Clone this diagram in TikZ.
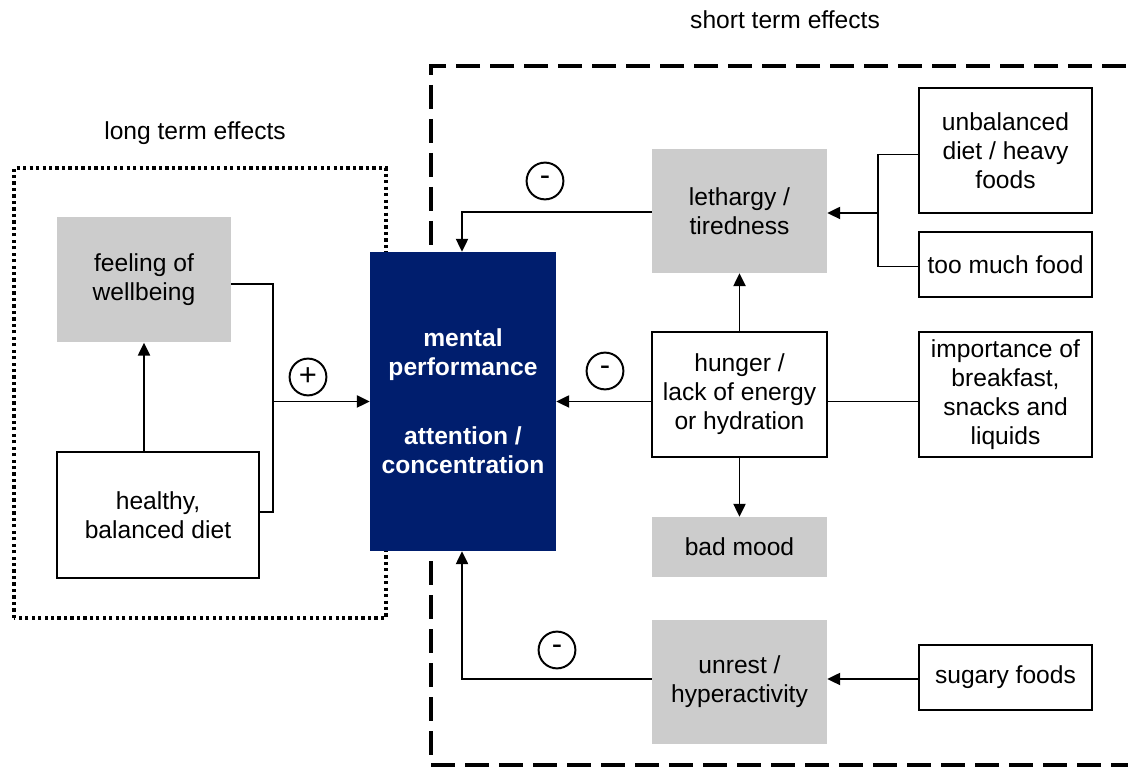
\documentclass[tikz,border=0pt]{standalone}
\usepackage{fontspec}
\setmainfont{Liberation Sans}
\usetikzlibrary{positioning, arrows.meta, calc}
\definecolor{navyperf}{RGB}{0, 30, 110}
\definecolor{boxgray}{RGB}{204, 204, 204}

\begin{document}
\begin{tikzpicture}[>={Triangle[length=0.32cm, width=0.3cm]},
    every node/.style={font=\fontsize{17.5}{20.6}\selectfont, align=center},
    graybox/.style={fill=boxgray, minimum width=4.375cm, minimum height=3.1cm, inner sep=2pt},
    whitebox/.style={draw, line width=1.4pt, fill=white, minimum width=4.325cm, minimum height=3.125cm, inner sep=2pt},
    perfbox/.style={fill=navyperf, text=white, font=\fontsize{17.5}{20.6}\selectfont\bfseries, minimum width=4.65cm, minimum height=7.475cm},
    sign/.style={draw, circle, line width=1.4pt, minimum size=0.92cm, inner sep=0pt, font=\fontsize{22}{22}\selectfont},
    conn/.style={line width=1.4pt}]
\useasboundingbox (0,0) rectangle (28.2,19.175);
% frames
\draw[line width=2.3pt, dash pattern=on 2.3pt off 2.3pt] (0.35,3.725) rectangle (9.65,14.975);
\draw[line width=2.35pt, dash pattern=on 0.6cm off 0.25cm] (29,17.525) -- (10.775,17.525) -- (10.775,0.05) -- (29,0.05);
\node (shortlbl) at (19.625,18.675) {short term effects};
\node (longlbl) at (4.875,15.85) {long term effects};
% long term
\node[graybox, minimum width=4.35cm, minimum height=3.125cm] (wellbeing) at (3.6,12.175) {feeling of\\wellbeing};
\node[whitebox, minimum width=5.05cm, minimum height=3.15cm] (healthy) at (3.95,6.3) {healthy,\\balanced diet};
\node[perfbox] (mental) at (11.575,9.1375) {mental\\performance\\[1.0cm]attention /\\concentration};
% short term
\node[graybox] (lethargy) at (18.4875,13.9) {lethargy /\\tiredness};
\node[whitebox] (unbalanced) at (25.1375,15.4125) {unbalanced\\diet / heavy\\foods};
\node[whitebox, minimum height=1.625cm] (toomuch) at (25.1375,12.5625) {too much food};
\node[whitebox, minimum width=4.375cm] (hunger) at (18.4875,9.3125) {hunger /\\lack of energy\\or hydration};
\node[whitebox] (breakfast) at (25.1375,9.3125) {importance of\\breakfast,\\snacks and\\liquids};
\node[graybox, minimum height=1.5cm] (badmood) at (18.4875,5.5) {bad mood};
\node[graybox] (unrest) at (18.4875,2.125) {unrest /\\hyperactivity};
\node[whitebox, minimum height=1.625cm] (sugary) at (25.1375,2.2375) {sugary foods};
% signs
\node[sign] (plus) at (7.7,9.75) {+};
\node[sign] (minustop) at (13.625,14.65) {-};
\node[sign] (minusmid) at (15.125,9.9) {-};
\node[sign] (minusbot) at (13.925,2.925) {-};
% connectors
\coordinate (join) at (6.825,9.1375);
\draw[conn, ->] (healthy.north -| wellbeing.south) -- (wellbeing.south);
\draw[conn] ($(wellbeing.east)+(0,-0.1)$) -| (join) |- ($(healthy.east)+(0,0.075)$);
\draw[conn, ->] (join) -- (mental.west);
\coordinate (fork) at (21.95,13.85);
\draw[conn] ($(unbalanced.west)+(0,-0.1)$) -| (fork) |- ($(toomuch.west)+(0,-0.05)$);
\draw[conn, ->] (fork) -- (lethargy.east |- fork);
\draw[conn, ->] ($(lethargy.west)+(0,-0.025)$) -| ($(mental.north)+(-0.025,0)$);
\draw[conn, ->] (hunger.north) -- (lethargy.south);
\draw[conn, ->] (hunger.west |- mental.east) -- (mental.east);
\draw[conn] (breakfast.west |- mental.east) -- (hunger.east |- mental.east);
\draw[conn, ->] (hunger.south) -- (badmood.north);
\draw[conn, ->] (sugary.west |- 0,2.2) -- (unrest.east |- 0,2.2);
\draw[conn, ->] (unrest.west |- 0,2.2) -| ($(mental.south)+(-0.025,0)$);
\end{tikzpicture}
\end{document}
